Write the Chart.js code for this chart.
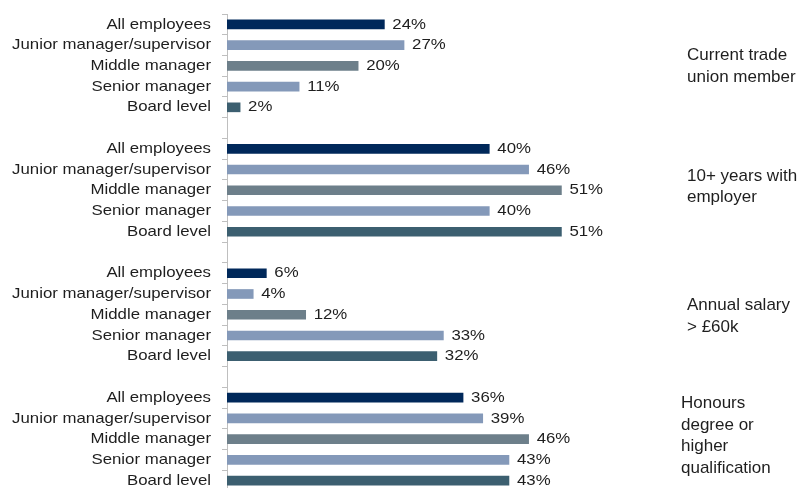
<!DOCTYPE html>
<html>
<head>
<meta charset="utf-8">
<script src="https://cdn.jsdelivr.net/npm/chart.js@4/dist/chart.umd.min.js"></script>
<style>
  html, body { margin: 0; padding: 0; background: #ffffff; overflow: hidden; }
  #wrap { position: relative; width: 806px; height: 492px; }
</style>
</head>
<body>
<div id="wrap"><canvas id="chart"></canvas></div>
<script>
// Roles shown within every block
const roles = ["All employees", "Junior manager/supervisor", "Middle manager", "Senior manager", "Board level"];

// One short note per block, split into its printed lines
const groupNotes = [
  ["Current trade", "union member"],
  ["10+ years with", "employer"],
  ["Annual salary", "> £60k"],
  ["Honours", "degree or", "higher", "qualification"]
];

// Percentages per role, one array per block
const unionMember   = [24, 27, 20, 11, 2];
const tenure10Plus  = [40, 46, 51, 40, 51];
const salaryOver60k = [6, 4, 12, 33, 32];
const degreeOrAbove = [36, 39, 46, 43, 43];

const blocks = [unionMember, tenure10Plus, salaryOver60k, degreeOrAbove];

// Colour per role
const roleColors = ["#00285a", "#8499b9", "#6d7f8a", "#8499b9", "#3c5f70"];

// Small nudges for the side notes (x, y in px)
const noteNudge = [[0, -1], [0, -5], [0, 0], [-6, -5]];

// Build the category list with an empty row between blocks
const labels = [];
const values = [];
const colors = [];
const blockIndex = [];
blocks.forEach((vals, b) => {
  if (b > 0) { labels.push(""); values.push(null); colors.push("rgba(0,0,0,0)"); blockIndex.push(-1); }
  vals.forEach((v, i) => {
    labels.push(roles[i]);
    values.push(v);
    colors.push(roleColors[i]);
    blockIndex.push(b);
  });
});

const FONT = '"Liberation Sans", Arial, Helvetica, sans-serif';
const TEXT = "#1e1e1e";
const STRETCH = 1.12;

function stretchedText(ctx, str, x, y, align) {
  ctx.save();
  ctx.translate(x, y);
  ctx.scale(STRETCH, 1);
  ctx.textAlign = align;
  ctx.fillText(str, 0, 0);
  ctx.restore();
}

const annotate = {
  id: "annotate",
  afterDatasetsDraw(chart) {
    const ctx = chart.ctx;
    const yScale = chart.scales.y;
    const area = chart.chartArea;
    const meta = chart.getDatasetMeta(0);

    ctx.save();
    ctx.fillStyle = TEXT;
    ctx.textBaseline = "middle";
    ctx.font = "15px " + FONT;

    // Role names left of the axis
    labels.forEach((lab, i) => {
      if (!lab) return;
      stretchedText(ctx, lab, area.left - 16, yScale.getPixelForValue(i), "right");
    });

    // Value labels at the bar ends
    meta.data.forEach((el, i) => {
      const v = values[i];
      if (v === null || v === undefined) return;
      stretchedText(ctx, v + "%", el.x + 8, el.y, "left");
    });

    // Block notes to the right of the plot
    ctx.font = "17px " + FONT;
    ctx.textBaseline = "alphabetic";
    ctx.textAlign = "left";
    const lineH = 21.5, capH = 12.2;
    groupNotes.forEach((lines, b) => {
      const ys = [];
      blockIndex.forEach((bi, i) => { if (bi === b) ys.push(meta.data[i].y); });
      const center = (Math.min(...ys) + Math.max(...ys)) / 2 + noteNudge[b][1];
      const first = center - ((lines.length - 1) * lineH - capH) / 2;
      lines.forEach((ln, k) => {
        ctx.fillText(ln, area.right + 1 + noteNudge[b][0], first + k * lineH);
      });
    });
    ctx.restore();
  }
};

new Chart(document.getElementById("chart"), {
  type: "bar",
  data: {
    labels: labels,
    datasets: [{
      data: values,
      backgroundColor: colors,
      borderWidth: 0,
      barThickness: 9
    }]
  },
  options: {
    indexAxis: "y",
    responsive: true,
    maintainAspectRatio: false,
    animation: false,
    layout: { padding: { top: 14, bottom: 1, left: 0, right: 120 } },
    plugins: { legend: { display: false }, tooltip: { enabled: false } },
    scales: {
      x: { type: "linear", min: 0, max: 70, display: false },
      y: {
        type: "category",
        afterFit(scale) { scale.width = 227; },
        grid: {
          offset: true,
          drawOnChartArea: false,
          drawTicks: true,
          tickLength: 5,
          color: "#bfbfbf",
          lineWidth: 1
        },
        border: { display: true, color: "#bfbfbf", width: 1 },
        ticks: { display: false }
      }
    }
  },
  plugins: [annotate]
});
</script>
</body>
</html>
